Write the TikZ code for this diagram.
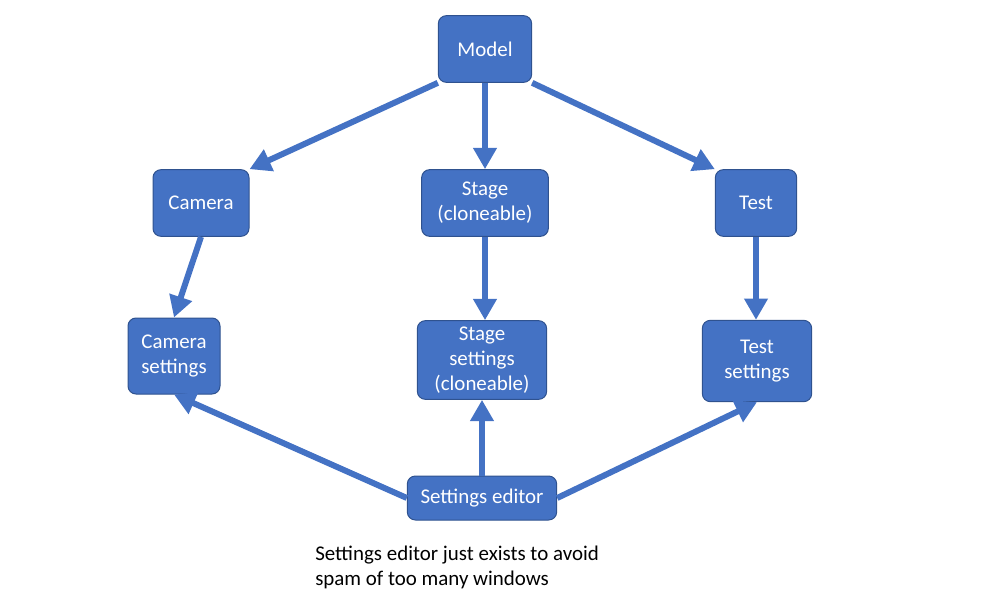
\documentclass[tikz,border=0pt]{standalone}
\usepackage{fontspec}
\setmainfont{Carlito}
\usepackage{tikz}
\usetikzlibrary{arrows.meta}
\usepackage{xcolor}
\definecolor{boxfill}{HTML}{4472C4}
\definecolor{boxline}{HTML}{2F528F}
\begin{document}
\begin{tikzpicture}[x=0.75pt,y=-0.75pt,
		box/.style={rectangle,rounded corners=6pt,fill=boxfill,draw=boxline,line width=0.75pt,
			text=white,align=center,inner sep=2pt,font=\fontsize{15.7}{18.75}\selectfont},
		link/.style={draw=boxfill,line width=4.5pt,-{Triangle[length=16pt,width=17pt]}}]
			
			\useasboundingbox (0,0) rectangle (999,606);
			
			% top row
			\node[box,minimum width=70pt,minimum height=50pt] (model) at (485,49) {Model};
			
			% middle row
			\node[box,minimum width=72pt,minimum height=50pt] (camera) at (201,203) {Camera};
			\node[box,minimum width=95pt,minimum height=50pt] (stage) at (485,203) {Stage\\(cloneable)};
			\node[box,minimum width=61pt,minimum height=50pt] (test) at (756,203) {Test};
			
			% settings row
			\node[box,minimum width=69pt,minimum height=57pt] (camset) at (174,356) {Camera\\settings};
			\node[box,minimum width=97pt,minimum height=59pt] (stageset) at (482,360) {Stage\\settings\\(cloneable)};
			\node[box,minimum width=82pt,minimum height=61pt] (testset) at (757,361) {Test\\settings};
			
			% editor
			\node[box,minimum width=112pt,minimum height=33pt] (editor) at (482,498) {Settings editor};
			
			% note
			\node[align=left,anchor=north west,inner sep=0pt,font=\fontsize{15.7}{18.75}\selectfont] (note) at (315,546)
				{Settings editor just exists to avoid\\spam of too many windows};
			
			% arrows from the model
			\draw[link] (model.south west) -- (camera.north east);
			\draw[link] (model.south) -- (stage.north);
			\draw[link] (model.south east) -- (test.north west);
			
			% arrows down to the settings
			\draw[link] (camera.south) -- (camset.north);
			\draw[link] (stage.south) -- (stage.south |- stageset.north);
			\draw[link] (test.south) -- (test.south |- testset.north);
			
			% arrows from the editor
			\draw[link] (editor.west) -- (camset.south);
			\draw[link] (editor.north) -- (stageset.south);
			\draw[link] (editor.east) -- (testset.south);
			
		\end{tikzpicture}
\end{document}
